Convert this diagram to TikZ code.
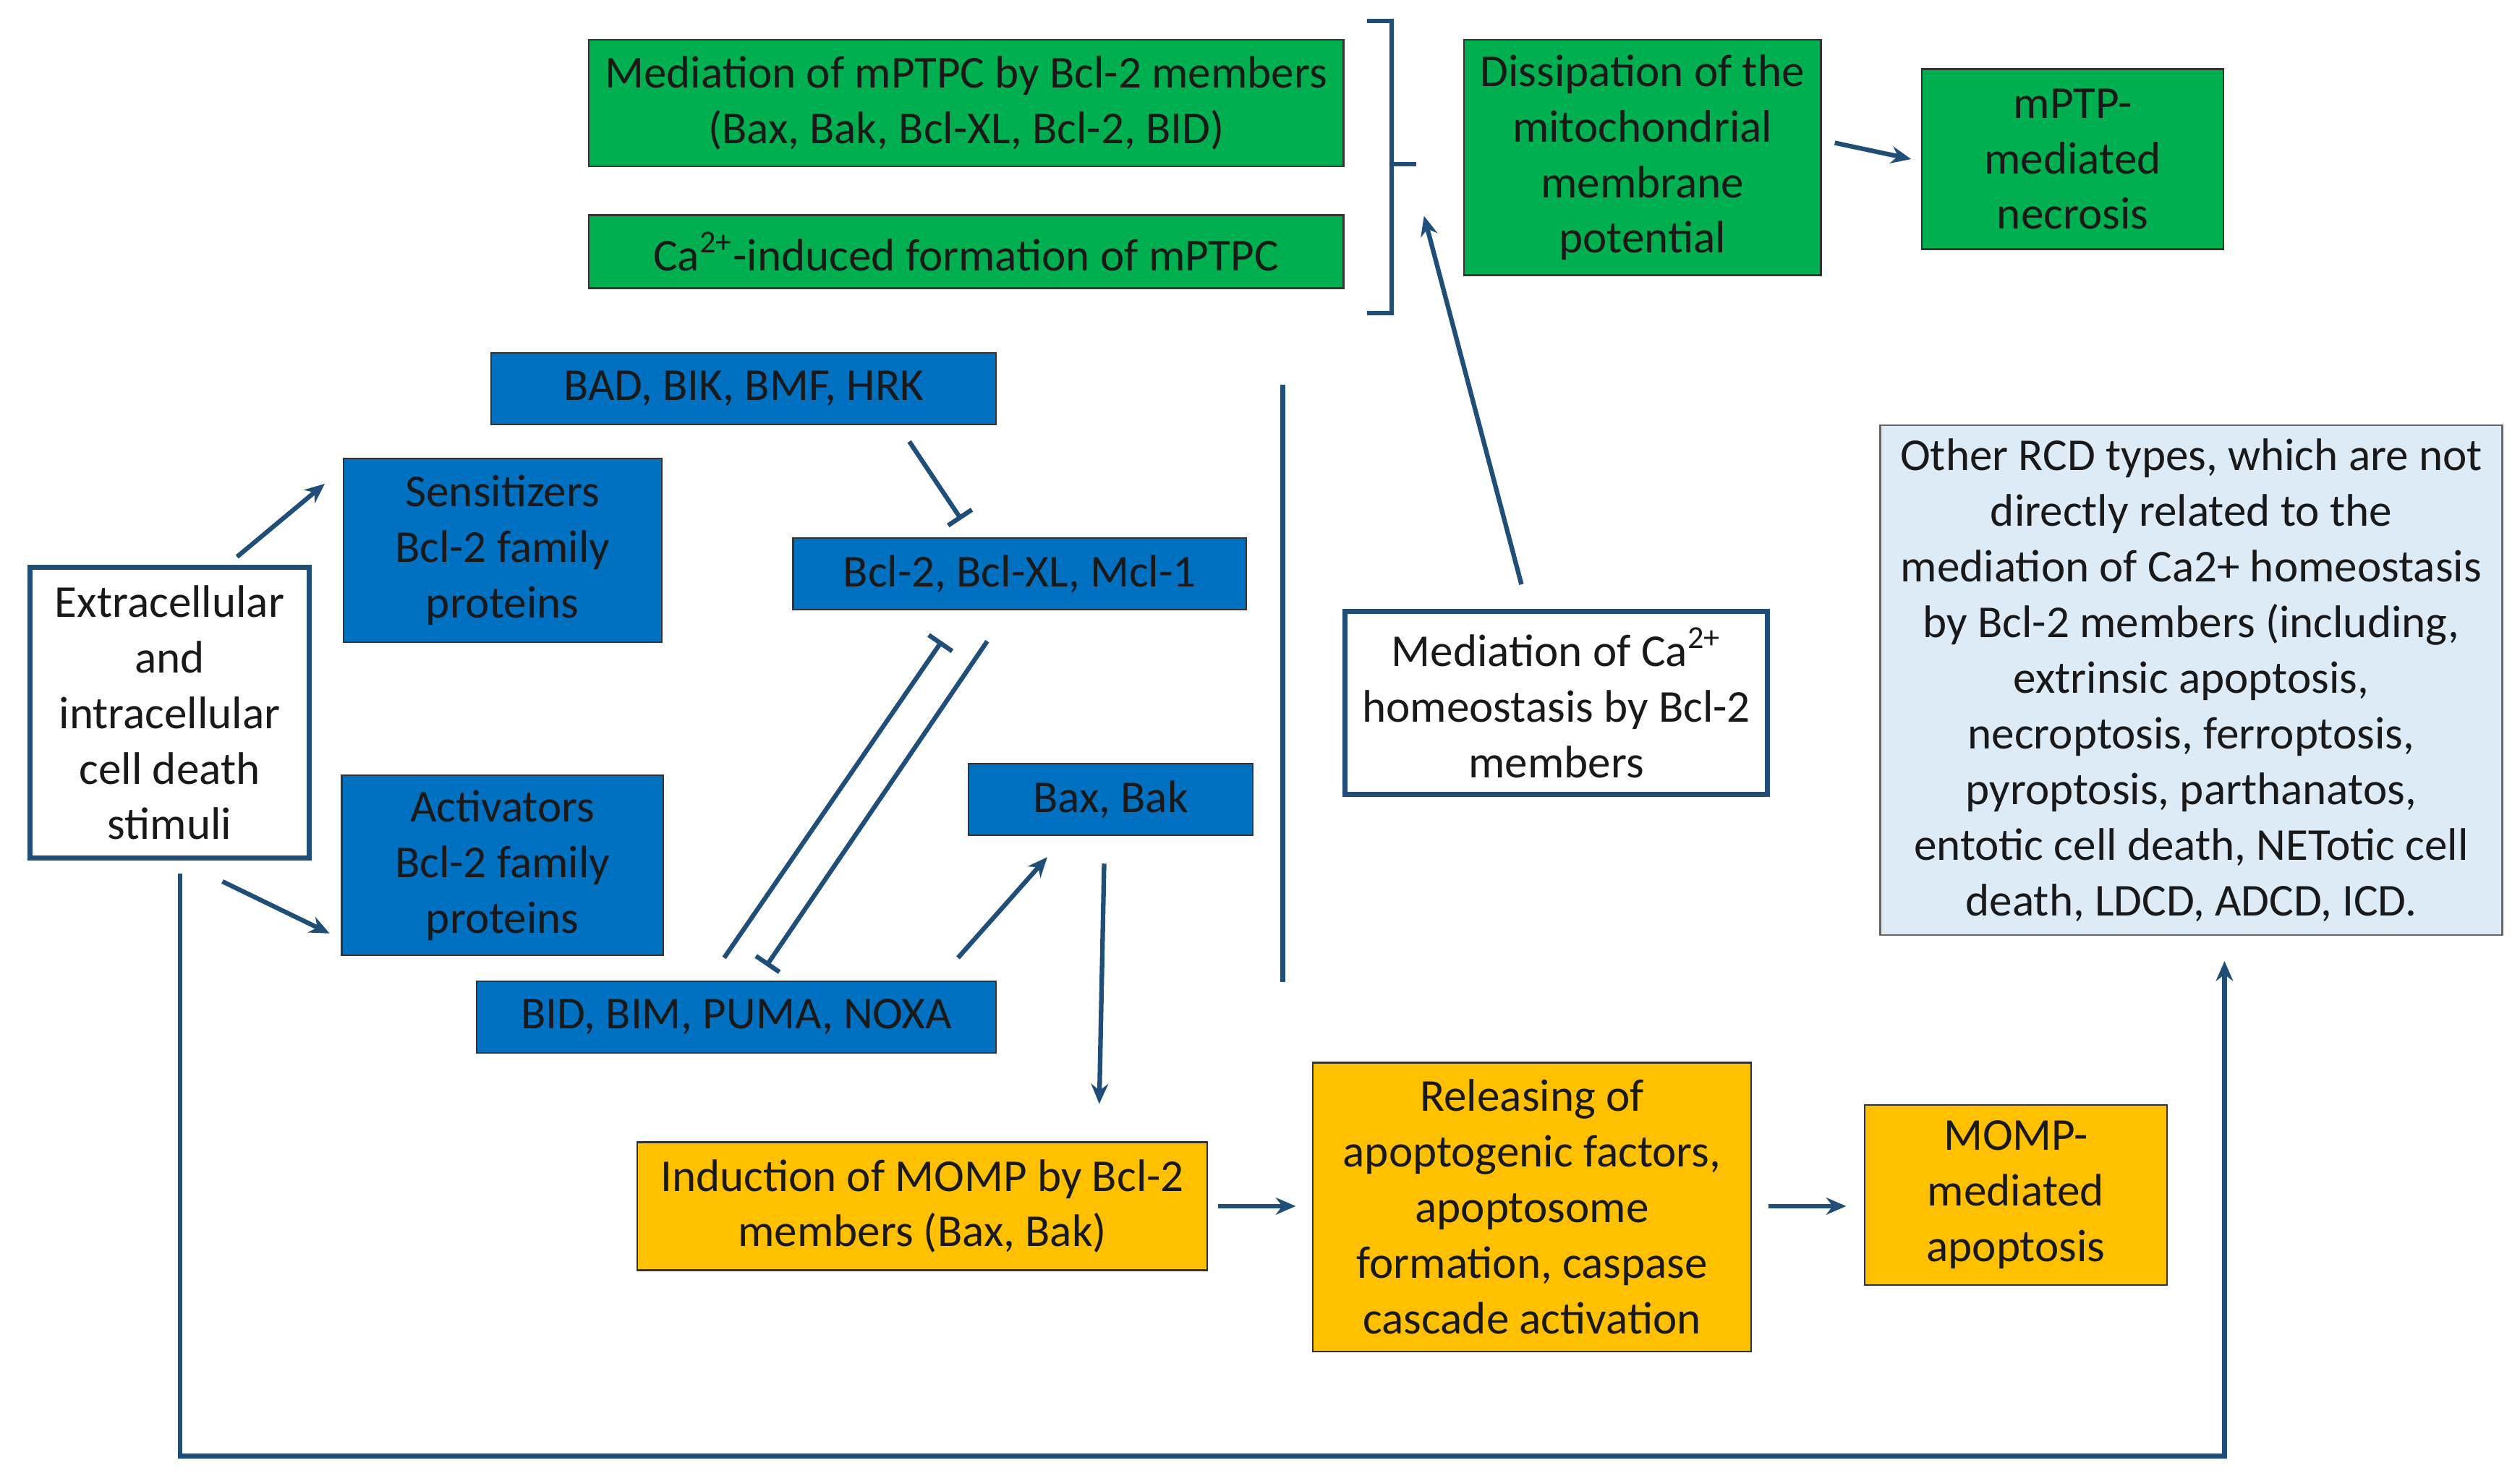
\documentclass[tikz,border=0pt]{standalone}
\usepackage{fontspec}
\setmainfont{Carlito}
\usetikzlibrary{arrows.meta}
\definecolor{gr}{HTML}{00B050}
\definecolor{bl}{HTML}{0070C0}
\definecolor{og}{HTML}{FFC000}
\definecolor{lb}{HTML}{DDEBF7}
\definecolor{nv}{HTML}{1F4E79}
\begin{document}
\begin{tikzpicture}[x=0.02cm,y=-0.02cm,
 box/.style={draw=black!80,line width=0.6pt,align=center,inner sep=0pt,font=\fontsize{16}{19.5}\selectfont,text=black!90},
 g/.style={box,fill=gr},
 b/.style={box,fill=bl},
 o/.style={box,fill=og},
 w/.style={box,fill=white,draw=nv,line width=1.8pt},
 ar/.style={draw=nv,line width=1.6pt,-{Stealth[length=7pt,width=6pt]}},
 inh/.style={draw=nv,line width=1.6pt,-{Bar[width=10pt]}},
 ln/.style={draw=nv,line width=1.6pt}]
\useasboundingbox (0,0) rectangle (1552,912);
\newcommand{\bx}[7]{\node[#1,minimum width=#4*0.02cm-0.6pt,minimum height=#5*0.02cm-0.6pt] (#6) at (#2+#4/2,#3+#5/2) {#7};}
\bx{g}{362}{24}{466}{79}{g1}{Mediation of mPTPC by Bcl-2 members\\(Bax, Bak, Bcl-XL, Bcl-2, BID)}
\bx{g}{362}{132}{466}{46}{g2}{Ca\textsuperscript{2+}-induced formation of mPTPC}
\bx{g}{901}{24}{221}{146}{g3}{Dissipation of the\\mitochondrial\\membrane\\potential}
\bx{g}{1183}{42}{187}{112}{g4}{mPTP-\\mediated\\necrosis}
\bx{b}{302}{217}{312}{45}{bad}{BAD, BIK, BMF, HRK}
\bx{b}{211}{282}{197}{114}{sens}{Sensitizers\\Bcl-2 family\\proteins}
\bx{b}{488}{331}{280}{45}{bcl}{Bcl-2, Bcl-XL, Mcl-1}
\bx{b}{210}{477}{199}{112}{act}{Activators\\Bcl-2 family\\proteins}
\bx{b}{596}{470}{176}{45}{bax}{Bax, Bak}
\bx{b}{293}{604}{321}{45}{bid}{BID, BIM, PUMA, NOXA}
\bx{w}{18}{349}{173}{180}{stim}{Extracellular\\and\\intracellular\\cell death\\stimuli}
\bx{w}{828}{376}{261}{114}{ca}{Mediation of Ca\textsuperscript{2+}\\homeostasis by Bcl-2\\members}
\node[box,fill=lb,draw=black!60,minimum width=383*0.02cm,minimum height=314*0.02cm] (rcd) at (1349.5,419) {Other RCD types, which are not\\directly related to the\\mediation of Ca2+ homeostasis\\by Bcl-2 members (including,\\extrinsic apoptosis,\\necroptosis, ferroptosis,\\pyroptosis, parthanatos,\\entotic cell death, NETotic cell\\death, LDCD, ADCD, ICD.};
\bx{o}{392}{703}{352}{80}{o1}{Induction of MOMP by Bcl-2\\members (Bax, Bak)}
\bx{o}{808}{654}{271}{179}{o2}{Releasing of\\apoptogenic factors,\\apoptosome\\formation, caspase\\cascade activation}
\bx{o}{1148}{680}{187}{112}{o3}{MOMP-\\mediated\\apoptosis}
% bracket
\coordinate (br) at (872,101);
\draw[ln] (842,13) -- (857,13) -- (857,193) -- (842,193);
\draw[ln] (857,101) -- (br);
\draw[ln] (790,237) -- (790,605);
% arrows
\draw[ar] (1130,88) -- (g4.west-|1177,88);
\draw[ar] (146,343) -- (200,298);
\draw[ar] (137,543) -- (203,575);
\draw[inh] (560,272) -- (592,320);
\draw[inh] (446,590) -- (580,395);
\draw[inh] (608,395) -- (472,595);
\draw[ar] (590,590) -- (645,528);
\draw[ar] (680,532) -- (677,680);
\draw[ar] (937,360) -- (877,133);
\draw[ar] (750,743) -- (798,743);
\draw[ar] (1089,743) -- (1137,743);
\draw[ar] (111,538) -- (111,897) -- (1370,897) -- (1370,592);
\end{tikzpicture}
\end{document}
